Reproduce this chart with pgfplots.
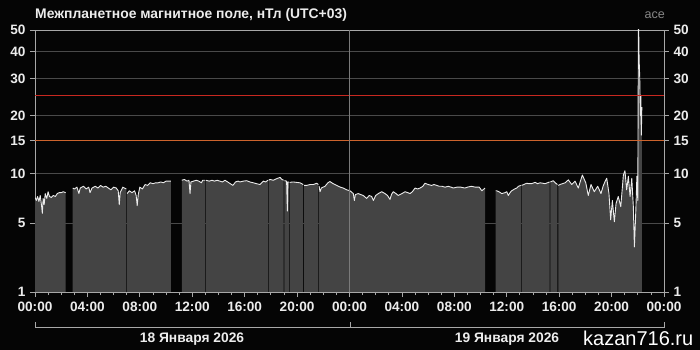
\documentclass[border=0pt]{standalone}
\usepackage{pgfplots}
\pgfplotsset{compat=1.18}
\usepackage{pgfplotstable}
\usepackage{fontspec}
\setmainfont{Liberation Sans}
\definecolor{bg}{HTML}{050505}
\definecolor{fillg}{HTML}{444444}
\definecolor{gridg}{HTML}{4A4A4A}
\definecolor{framec}{HTML}{A8A8A8}
\definecolor{txt}{HTML}{ECECEC}
\definecolor{throra}{RGB}{205,100,45}
\definecolor{thrred}{RGB}{200,40,32}
\definecolor{midl}{HTML}{7A7A7A}

\pgfplotstableread{
h v
0 7.3
0.1 7.0
0.2 7.4
0.3 6.9
0.4 7.5
0.5 6.5
0.56 5.8
0.62 7.2
0.7 6.6
0.78 7.7
0.9 7.2
1.0 7.9
1.1 7.4
1.25 7.3
1.4 7.5
1.55 7.4
1.7 7.7
1.85 7.8
2.0 7.8
2.15 7.9
2.34 7.8
}\segA
\pgfplotstableread{
h v
2.88 8.3
3.0 8.2
3.2 8.4
3.35 7.7
3.45 8.3
3.7 8.5
3.9 8.2
4.1 8.4
4.2 7.8
4.35 8.3
4.6 8.5
4.8 8.3
5.0 8.6
5.2 8.4
5.4 8.5
5.6 8.3
5.8 8.1
6.0 8.4
6.2 8.3
6.35 8.0
6.43 6.6
6.5 7.8
6.7 8.4
6.97 8.2
}\segB
\pgfplotstableread{
h v
7.03 7.7
7.2 8.0
7.4 7.8
7.6 8.0
7.72 7.5
7.8 6.5
7.88 7.6
8.0 8.4
8.2 8.2
8.4 8.7
8.6 8.6
8.8 8.9
9.0 8.8
9.2 8.9
9.4 8.9
9.6 9.0
9.8 8.9
10.0 9.1
10.2 9.1
10.36 9.1
}\segC
\pgfplotstableread{
h v
11.2 9.2
11.4 9.3
11.6 9.1
11.75 9.2
11.83 7.7
11.9 9.0
12.1 9.1
12.3 9.2
12.5 9.1
12.7 8.9
12.8 9.2
12.97 9.2
}\segD
\pgfplotstableread{
h v
13.03 9.2
13.3 9.1
13.5 9.2
13.7 9.1
13.9 9.2
14.1 9.1
14.3 9.0
14.5 9.2
14.7 9.0
14.9 8.8
15.1 8.6
15.3 9.0
15.5 9.1
15.64 9.0
15.9 9.1
16.15 9.15
16.4 9.0
16.66 8.9
16.9 8.8
17.17 8.7
17.42 9.1
17.6 9.0
17.77 9.2
}\segE
\pgfplotstableread{
h v
17.83 9.2
17.93 9.3
18.19 9.2
18.45 9.4
18.7 9.55
18.85 9.3
18.97 9.2
}\segF
\pgfplotstableread{
h v
19.03 9.15
19.2 9.1
19.26 6.0
19.3 9.0
19.37 9.0
}\segG
\pgfplotstableread{
h v
19.43 8.95
19.7 9.0
19.95 8.95
20.22 8.9
20.47 8.7
}\segH
\pgfplotstableread{
h v
20.53 8.6
20.73 8.6
21.0 8.7
21.24 8.7
21.5 8.85
21.62 8.7
}\segI
\pgfplotstableread{
h v
21.68 8.5
21.75 7.9
21.85 8.3
22.13 8.5
22.35 8.9
22.51 9.05
22.75 8.8
23.02 8.6
23.3 8.4
23.53 8.3
23.8 8.1
24.04 8.0
24.29 7.7
24.37 7.0
24.45 7.6
24.67 7.7
24.85 7.6
25.05 7.5
25.31 7.2
25.5 7.5
25.69 7.4
25.82 7.0
26.0 7.5
26.2 7.7
26.46 7.9
26.71 7.7
26.9 7.5
27.09 7.1
27.2 7.6
27.34 7.9
27.55 7.7
27.72 7.5
28.0 7.7
28.24 7.9
28.45 7.8
28.62 7.7
28.8 7.9
29.0 8.3
29.2 8.2
29.38 8.3
29.6 8.5
29.76 8.85
30.0 8.7
30.27 8.6
30.45 8.7
30.65 8.6
30.85 8.5
31.04 8.5
31.3 8.4
31.54 8.5
31.75 8.4
31.92 8.3
32.2 8.4
32.5 8.4
32.8 8.3
33.0 8.4
33.3 8.5
33.6 8.4
33.9 8.4
34.1 8.0
34.34 8.3
}\segJ
\pgfplotstableread{
h v
35.16 8.0
35.23 8.0
35.4 7.9
35.62 7.7
35.87 7.8
36.0 7.9
36.12 7.5
36.25 7.8
36.38 8.0
36.6 8.2
36.76 8.3
36.9 8.5
37.07 8.6
}\segK
\pgfplotstableread{
h v
37.13 8.6
37.3 8.7
37.52 8.85
37.7 8.8
37.9 8.8
38.16 8.95
38.35 8.8
38.54 8.9
38.75 8.85
38.92 8.8
39.1 8.9
39.27 9.0
}\segL
\pgfplotstableread{
h v
39.33 9.0
39.55 9.15
39.7 8.9
39.87 8.7
}\segM
\pgfplotstableread{
h v
39.93 8.6
40.06 8.7
40.25 8.8
40.45 8.9
40.7 9.25
40.96 8.7
41.21 9.1
41.46 8.3
41.6 9.0
41.77 9.85
42.03 8.9
42.22 7.5
42.43 8.7
42.68 7.9
42.94 8.5
43.19 7.7
43.35 8.5
43.5 9.05
43.63 9.45
43.8 7.7
43.93 5.25
44.06 7.0
44.21 5.1
44.34 6.7
44.51 7.4
44.7 6.4
44.9 9.85
45.02 10.4
45.15 8.1
45.28 9.7
45.41 7.4
45.54 9.45
45.66 6.4
45.74 3.3
45.85 6.05
45.93 9.7
46.0 7.0
46.05 60
46.1 37
46.15 30
46.2 20
46.23 25
46.27 16
46.31 22
}\segN

\pgfplotsset{
  fillseg/.style={fill=fillg, draw=none},
  lineseg/.style={white!92!black, line width=0.9pt, line join=round},
}

\begin{document}
\begin{tikzpicture}
\fill[bg] (-35pt,-58pt) rectangle (665pt,292pt);
\begin{axis}[
  at={(0pt,0pt)}, anchor=south west,
  scale only axis, width=629pt, height=262pt,
  xmin=0, xmax=48, ymin=1, ymax=50,
  y coord trafo/.code={\pgfmathparse{ln(#1+3.2)}},
  y coord inv trafo/.code={\pgfmathparse{exp(#1)-3.2}},
  ytick={1,5,10,15,20,30,40,50},
  yticklabels={1,5,10,15,20,30,40,50},
  xtick={0,4,...,48},
  xticklabels={00:00,04:00,08:00,12:00,16:00,20:00,00:00,04:00,08:00,12:00,16:00,20:00,00:00},
  minor x tick num=3,
  xtick pos=left, ytick pos=left,
  tick align=outside,
  major tick length=5pt, minor tick length=3pt,
  tick style={framec, line width=0.8pt},
  axis line style={framec, line width=0.8pt},
  ymajorgrids, major grid style={gridg, line width=0.8pt},
  ticklabel style={font=\bfseries\fontsize{13.6}{13.6}\selectfont, text=txt},
  xticklabel style={yshift=-1pt},
  yticklabel style={xshift=-1pt},
  clip=true,
]
\addplot[fillseg] table[x=h, y=v] {\segA} \closedcycle;
\addplot[fillseg] table[x=h, y=v] {\segB} \closedcycle;
\addplot[fillseg] table[x=h, y=v] {\segC} \closedcycle;
\addplot[fillseg] table[x=h, y=v] {\segD} \closedcycle;
\addplot[fillseg] table[x=h, y=v] {\segE} \closedcycle;
\addplot[fillseg] table[x=h, y=v] {\segF} \closedcycle;
\addplot[fillseg] table[x=h, y=v] {\segG} \closedcycle;
\addplot[fillseg] table[x=h, y=v] {\segH} \closedcycle;
\addplot[fillseg] table[x=h, y=v] {\segI} \closedcycle;
\addplot[fillseg] table[x=h, y=v] {\segJ} \closedcycle;
\addplot[fillseg] table[x=h, y=v] {\segK} \closedcycle;
\addplot[fillseg] table[x=h, y=v] {\segL} \closedcycle;
\addplot[fillseg] table[x=h, y=v] {\segM} \closedcycle;
\addplot[fillseg] table[x=h, y=v] {\segN} \closedcycle;
\addplot[lineseg] table[x=h, y=v] {\segA};
\addplot[lineseg] table[x=h, y=v] {\segB};
\addplot[lineseg] table[x=h, y=v] {\segC};
\addplot[lineseg] table[x=h, y=v] {\segD};
\addplot[lineseg] table[x=h, y=v] {\segE};
\addplot[lineseg] table[x=h, y=v] {\segF};
\addplot[lineseg] table[x=h, y=v] {\segG};
\addplot[lineseg] table[x=h, y=v] {\segH};
\addplot[lineseg] table[x=h, y=v] {\segI};
\addplot[lineseg] table[x=h, y=v] {\segJ};
\addplot[lineseg] table[x=h, y=v] {\segK};
\addplot[lineseg] table[x=h, y=v] {\segL};
\addplot[lineseg] table[x=h, y=v] {\segM};
\addplot[lineseg] table[x=h, y=v] {\segN};
\addplot[throra, line width=1.1pt] coordinates {(0,15) (48,15)};
\addplot[thrred, line width=1.6pt] coordinates {(0,25) (48,25)};
\addplot[midl, line width=0.8pt] coordinates {(24,1) (24,50)};
\end{axis}
\begin{axis}[
  at={(0pt,0pt)}, anchor=south west,
  scale only axis, width=629pt, height=262pt,
  xmin=0, xmax=48, ymin=1, ymax=50,
  y coord trafo/.code={\pgfmathparse{ln(#1+3.2)}},
  y coord inv trafo/.code={\pgfmathparse{exp(#1)-3.2}},
  axis x line=none, axis y line*=right,
  ytick={1,5,10,15,20,30,40,50},
  yticklabels={1,5,10,15,20,30,40,50},
  tick align=outside,
  major tick length=5pt,
  tick style={framec, line width=0.8pt},
  axis line style={framec, line width=0.8pt},
  ticklabel style={font=\bfseries\fontsize{13.6}{13.6}\selectfont, text=txt},
  yticklabel style={xshift=1pt},
]
\addplot[draw=none] coordinates {(0,1) (48,50)};
\end{axis}
\node[anchor=base west, text=txt, font=\bfseries\fontsize{13.9}{13.9}\selectfont, inner sep=0pt] at (0pt,273pt) {Межпланетное магнитное поле, нТл (UTC+03)};
\node[anchor=base east, text={rgb,255:red,135;green,135;blue,135}, font=\fontsize{12.5}{12.5}\selectfont, inner sep=0pt] at (630pt,273pt) {ace};
\draw[framec, line width=0.8pt] (0pt,-30pt) -- (0pt,-35.5pt) -- (629pt,-35.5pt) -- (629pt,-30pt);
\draw[framec, line width=0.8pt] (315pt,-30pt) -- (315pt,-35.5pt);
\node[anchor=base, text=txt, font=\bfseries\fontsize{13.8}{13.8}\selectfont] at (157pt,-50pt) {18 Января 2026};
\node[anchor=base, text=txt, font=\bfseries\fontsize{13.8}{13.8}\selectfont] at (472pt,-50pt) {19 Января 2026};
\node[anchor=base west, text=white, font=\fontsize{20}{20}\selectfont, inner sep=0pt] at (548pt,-53pt) {kazan716.ru};
\end{tikzpicture}
\end{document}
